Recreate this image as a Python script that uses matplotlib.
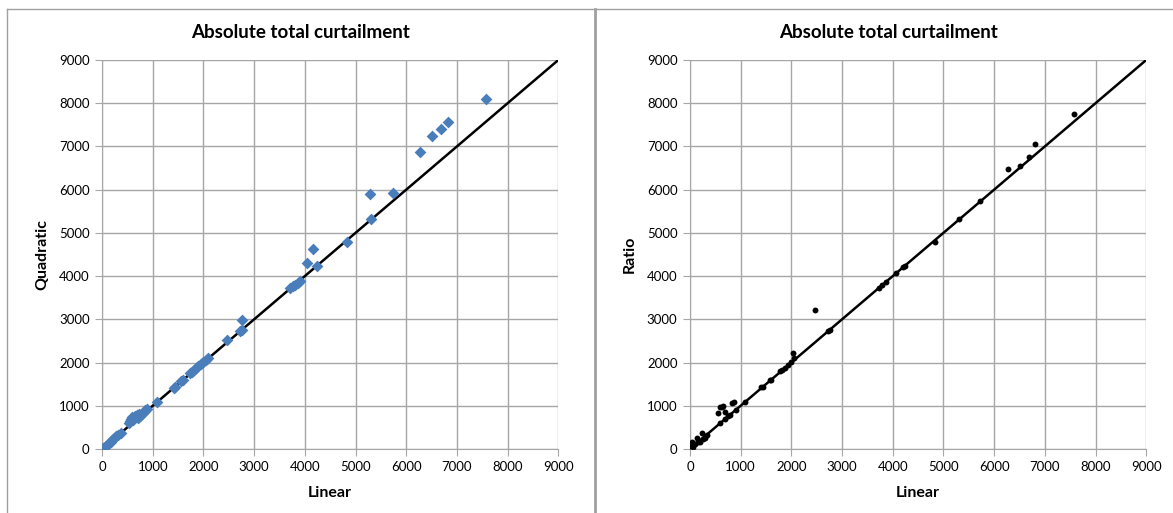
import matplotlib.pyplot as plt
from matplotlib.lines import Line2D

plt.rcParams['font.family'] = ['Lato', 'DejaVu Sans']

# curtailment (linear model) vs. quadratic model
lin_q = [0, 20, 50, 80, 110, 140, 170, 200, 240, 280, 320, 380,
         540, 560, 580, 600, 620, 650, 680, 700, 720, 750, 780, 820, 850, 880,
         1090, 1410, 1440, 1560, 1600, 1740, 1780, 1820, 1860, 1900, 1950, 2000, 2050, 2090,
         2470, 2720, 2760, 2770, 3710, 3760, 3800, 3860, 3900,
         4040, 4170, 4235, 4830, 5290, 5310, 5730, 6275, 6505, 6685, 6815, 7570]
quad = [0, 15, 50, 80, 110, 140, 170, 200, 250, 290, 320, 370,
        600, 650, 700, 740, 680, 760, 780, 720, 800, 760, 800, 850, 900, 920,
        1080, 1420, 1445, 1570, 1600, 1750, 1790, 1830, 1870, 1910, 1960, 2010, 2060, 2100,
        2520, 2730, 2750, 2985, 3725, 3760, 3800, 3840, 3880,
        4310, 4620, 4235, 4800, 5900, 5320, 5915, 6865, 7230, 7405, 7575, 8100]

# curtailment (linear model) vs. ratio model
lin_r = [0, 20, 35, 60, 100, 130, 160, 200, 230, 260, 295, 330,
         550, 590, 600, 630, 650, 690, 700, 760, 790, 830, 860, 900,
         1080, 1410, 1440, 1575, 1600, 1770, 1820, 1870, 1930, 2000, 2035, 2048,
         2460, 2730, 2757, 3730, 3780, 3873, 4057, 4200, 4247, 4825,
         5300, 5725, 6270, 6500, 6682, 6814, 7565]
ratio = [60, 110, 170, 50, 120, 250, 160, 170, 380, 230, 250, 330,
         830, 600, 960, 970, 990, 860, 700, 760, 790, 1060, 1080, 900,
         1080, 1440, 1445, 1590, 1600, 1805, 1830, 1867, 1944, 2020, 2213, 2105,
         3216, 2740, 2753, 3733, 3790, 3872, 4065, 4204, 4241, 4797,
         5310, 5738, 6471, 6555, 6750, 7050, 7760]

ticks = list(range(0, 9001, 1000))
grid_col = '#a6a6a6'

fig = plt.figure(figsize=(11.73, 5.13), dpi=100)

# (axes left, chart-area centre, x data, y data, y label, marker style)
panels = [
    (0.0870, 301 / 1173, lin_q, quad, 'Quadratic', dict(marker='D', s=36, color='#4a7ebb')),
    (0.5882, 889 / 1173, lin_r, ratio, 'Ratio', dict(marker='o', s=18, color='black')),
]

for left, centre, xs, ys, ylab, style in panels:
    ax = fig.add_axes([left, 0.1248, 0.3890, 0.7583])
    ax.plot([0, 9000], [0, 9000], color='black', lw=1.8, zorder=2)
    ax.scatter(xs, ys, linewidths=0, zorder=3, **style)
    ax.set_xlim(0, 9000)
    ax.set_ylim(0, 9000)
    ax.set_xticks(ticks)
    ax.set_yticks(ticks)
    ax.grid(True, color=grid_col, lw=1)
    ax.set_axisbelow(True)
    for side in ('top', 'right'):
        ax.spines[side].set_visible(False)
    for side in ('left', 'bottom'):
        ax.spines[side].set_color(grid_col)
    ax.tick_params(direction='out', length=5, color=grid_col, labelsize=9.5, pad=4)
    ax.set_xlabel('Linear', fontsize=11.5, fontweight='bold', labelpad=9)
    ax.set_ylabel(ylab, fontsize=11.5, fontweight='bold', labelpad=7)
    # title sits centred on the whole chart area, not on the plot area
    fig.text(centre, 1 - 32 / 513, 'Absolute total curtailment', ha='center', va='center',
             fontsize=13.5, fontweight='bold')

# chart-area frames
frame = dict(color='#a0a0a0', transform=fig.transFigure)
fig.add_artist(Line2D([7 / 1173, 1], [1 - 9 / 513, 1 - 9 / 513], lw=1, **frame))
fig.add_artist(Line2D([7 / 1173, 7 / 1173], [0, 1 - 9 / 513], lw=1, **frame))
fig.add_artist(Line2D([595 / 1173, 595 / 1173], [0, 1 - 9 / 513], lw=2, **frame))

fig.savefig('out.png', dpi=100)
